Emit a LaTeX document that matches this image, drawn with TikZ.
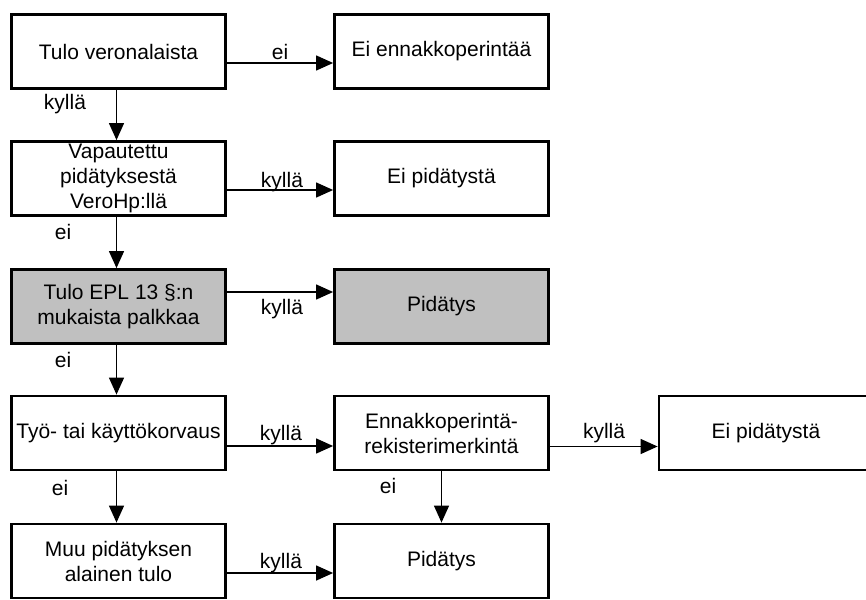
\documentclass[tikz,border=0pt]{standalone}
\usepackage{fontspec}
\setmainfont{Liberation Sans}
\usetikzlibrary{arrows.meta}
\definecolor{boxgrey}{RGB}{192,192,192}
\tikzset{
    txt/.style={font=\fontsize{21}{25}\selectfont},
    box/.style={txt, draw, line width=2.8pt, minimum width=214pt, minimum height=74pt, inner sep=0pt, align=center},
    greybox/.style={box, fill=boxgrey},
    flow/.style={line width=1.3pt, -{Triangle[length=17pt,width=15pt]}},
    lbl/.style={txt, inner sep=0pt},
}
\begin{document}
\begin{tikzpicture}[x=1pt, y=-1pt]
            \useasboundingbox (0,0) rectangle (866,599);
            % boxes
            \node[box] (tulo) at (118.5,51.5) {Tulo veronalaista};
            \node[box] (eiennakko) at (441.5,51.5) {Ei ennakkoperintää};
            \node[box] (vapautettu) at (118.5,178.5) {Vapautettu\\pidätyksestä\\VeroHp:llä};
            \node[box] (eipid1) at (441.5,178.5) {Ei pidätystä};
            \node[greybox] (palkka) at (118.5,306.5) {Tulo EPL 13 §:n\\mukaista palkkaa};
            \node[greybox] (pid1) at (441.5,306.5) {Pidätys};
            \node[box] (korvaus) at (118.5,433) {Työ- tai käyttökorvaus};
            \node[box] (rekisteri) at (441.5,433) {Ennakkoperintä-\\rekisterimerkintä};
            \node[box] (eipid2) at (766,433) {Ei pidätystä};
            \node[box] (muu) at (118.5,561) {Muu pidätyksen\\alainen tulo};
            \node[box] (pid2) at (441.5,561) {Pidätys};
            % connectors
            \draw[flow] ([yshift=-11.5pt]tulo.east) -- ([yshift=-11.5pt]eiennakko.west);
            \draw[flow] ([xshift=-2pt]tulo.south) -- ([xshift=-2pt]vapautettu.north);
            \draw[flow] ([yshift=-11.5pt]vapautettu.east) -- ([yshift=-11.5pt]eipid1.west);
            \draw[flow] ([xshift=-2pt]vapautettu.south) -- ([xshift=-2pt]palkka.north);
            \draw[flow] ([yshift=14.5pt]palkka.east) -- ([yshift=14.5pt]pid1.west);
            \draw[flow] ([xshift=-2pt]palkka.south) -- ([xshift=-2pt]korvaus.north);
            \draw[flow] ([yshift=-13pt]korvaus.east) -- ([yshift=-13pt]rekisteri.west);
            \draw[flow] ([yshift=-13.5pt]rekisteri.east) -- ([yshift=-13.5pt]eipid2.west);
            \draw[flow] ([xshift=-2pt]korvaus.south) -- ([xshift=-2pt]muu.north);
            \draw[flow] (rekisteri.south) -- (pid2.north);
            \draw[flow] ([yshift=-12pt]muu.east) -- ([yshift=-12pt]pid2.west);
            % labels
            \node[lbl] (l1) at (280,52) {ei};
            \node[lbl] (l2) at (65,104) {kyllä};
            \node[lbl] (l3) at (282,182) {kyllä};
            \node[lbl] (l4) at (63,232) {ei};
            \node[lbl] (l5) at (282,309) {kyllä};
            \node[lbl] (l6) at (63,360) {ei};
            \node[lbl] (l7) at (281,435) {kyllä};
            \node[lbl] (l8) at (604,433) {kyllä};
            \node[lbl] (l9) at (60,488) {ei};
            \node[lbl] (l10) at (388,486) {ei};
            \node[lbl] (l11) at (281,563) {kyllä};
        \end{tikzpicture}
\end{document}
